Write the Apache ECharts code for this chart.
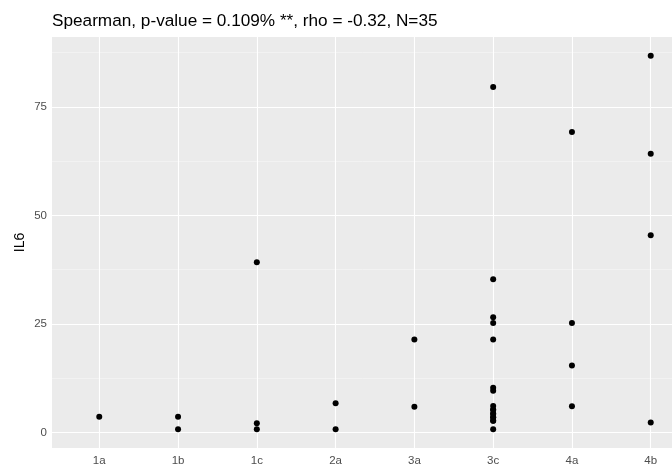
<!DOCTYPE html>
<html>
<head>
<meta charset="utf-8">
<script src="https://cdn.jsdelivr.net/npm/echarts@6/dist/echarts.min.js"></script>
<style>
  html, body { margin: 0; padding: 0; background: #ffffff; }
  #chart { width: 672px; height: 468px; }
</style>
</head>
<body>
<div id="chart"></div>
<script>
// Tumour stage groups on the x axis
const stages = ['1a', '1b', '1c', '2a', '3a', '3c', '4a', '4b'];

// One entry per patient: stage and IL6 level
const pointStage = [
  '1a',
  '1b', '1b',
  '1c', '1c', '1c',
  '2a', '2a',
  '3a', '3a',
  '3c', '3c', '3c', '3c', '3c', '3c', '3c', '3c', '3c', '3c', '3c', '3c', '3c',
  '3c', '3c', '3c', '3c',
  '4a', '4a', '4a', '4a',
  '4b', '4b', '4b', '4b'
];
const pointIL6 = [
  3.6,
  3.6, 0.7,
  39.2, 2.1, 0.7,
  6.7, 0.7,
  21.4, 5.9,
  79.6, 35.3, 26.5, 25.2, 21.4, 10.3, 9.6, 6.1, 5.2, 4.3, 3.5, 2.7, 0.7,
  4.3, 3.5, 5.2, 2.7,
  69.2, 25.2, 15.4, 6.0,
  86.8, 64.2, 45.4, 2.3
];

const yMajor = [0, 25, 50, 75];
const yMinor = [12.5, 37.5, 62.5, 87.5];

const tickIdx = stages.map((s, i) => i);
const points = pointStage.map((s, i) => [stages.indexOf(s), pointIL6[i]]);

const gridLines = []
  .concat(yMinor.map(v => ({ yAxis: v, lineStyle: { color: '#F7F7F7', width: 0.6, type: 'solid' } })))
  .concat(yMajor.map(v => ({ yAxis: v, lineStyle: { color: '#FFFFFF', width: 1.1, type: 'solid' } })))
  .concat(tickIdx.map(v => ({ xAxis: v, lineStyle: { color: '#FFFFFF', width: 1.1, type: 'solid' } })));

const chart = echarts.init(document.getElementById('chart'), null, { renderer: 'canvas' });
chart.setOption({
  animation: false,
  backgroundColor: '#ffffff',
  title: {
    text: 'Spearman, p-value = 0.109% **, rho = -0.32, N=35',
    left: 52,
    top: 13,
    padding: 0,
    textStyle: { fontFamily: 'Liberation Sans, Arial, sans-serif', fontSize: 17.2, fontWeight: 'normal', color: '#000000' }
  },
  grid: {
    left: 52, width: 646, top: 37, bottom: 20,
    outerBoundsMode: 'none',
    containLabel: false,
    show: true, backgroundColor: '#EBEBEB', borderWidth: 0
  },
  xAxis: {
    type: 'value',
    min: -0.6, max: 7.6,
    axisLine: { show: false },
    splitLine: { show: false },
    axisTick: { show: true, customValues: tickIdx, length: 3, lineStyle: { color: '#333333', width: 1 } },
    axisLabel: {
      customValues: tickIdx,
      formatter: v => stages[Math.round(v)],
      color: '#4D4D4D', fontSize: 11.5, margin: 7,
      fontFamily: 'Liberation Sans, Arial, sans-serif'
    }
  },
  yAxis: {
    type: 'value',
    min: -3.6, max: 91.1,
    name: 'IL6',
    nameLocation: 'middle',
    nameGap: 25,
    nameRotate: 90,
    nameMoveOverlap: false,
    nameTextStyle: { color: '#000000', fontSize: 14, fontFamily: 'Liberation Sans, Arial, sans-serif' },
    axisLine: { show: false },
    splitLine: { show: false },
    axisTick: { show: true, customValues: yMajor, length: 3, lineStyle: { color: '#333333', width: 1 } },
    axisLabel: {
      customValues: yMajor,
      color: '#4D4D4D', fontSize: 11.5, margin: 5,
      fontFamily: 'Liberation Sans, Arial, sans-serif'
    }
  },
  series: [
    {
      type: 'scatter',
      data: [],
      z: 1,
      silent: true,
      markLine: {
        silent: true,
        symbol: 'none',
        label: { show: false },
        data: gridLines
      }
    },
    {
      type: 'scatter',
      data: points,
      z: 5,
      symbol: 'circle',
      symbolSize: 6,
      itemStyle: { color: '#000000', opacity: 1 }
    }
  ]
});
</script>
</body>
</html>
